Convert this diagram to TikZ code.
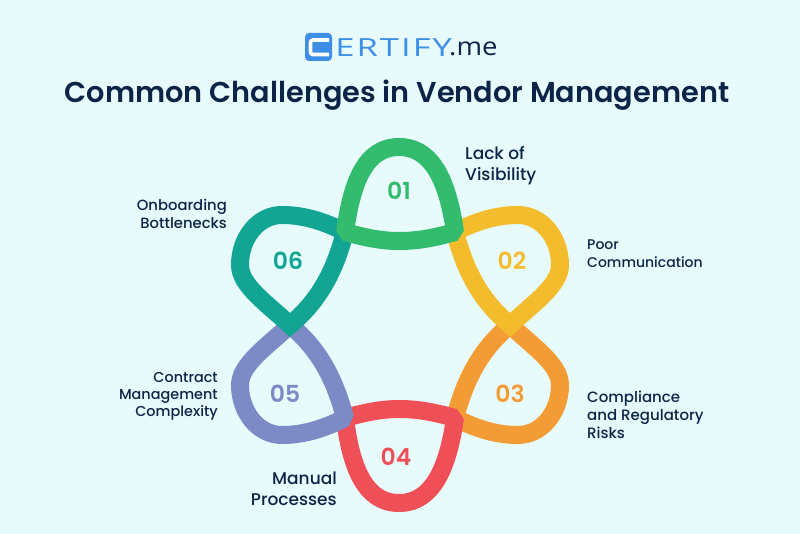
\documentclass[tikz,border=0pt]{standalone}
\usepackage{fontspec}
\setmainfont{Poppins}
\newfontfamily\psb{Poppins SemiBold}
\newfontfamily\pmd{Poppins Medium}
\newfontfamily\logof{Open Sans}
\definecolor{bgc}{HTML}{E8FBFC}
\definecolor{navy}{HTML}{0B2447}
\definecolor{cgreen}{HTML}{33BB6E}
\definecolor{cyellow}{HTML}{F2BC2D}
\definecolor{corange}{HTML}{F39B35}
\definecolor{cred}{HTML}{EF5057}
\definecolor{cblue}{HTML}{7C8BC5}
\definecolor{cteal}{HTML}{12A594}
\definecolor{clogo}{HTML}{3D8EE6}
\tikzset{
  loopline/.style={line width=18pt,line join=bevel},
  tipline/.style={line width=18pt,line join=miter,miter limit=10},
  lbl/.style={inner sep=0pt,text=navy,font=\pmd\fontsize{14}{18}\selectfont},
  lblbig/.style={inner sep=0pt,text=navy,font=\pmd\fontsize{17}{21}\selectfont},
  num/.style={inner sep=0pt,font=\psb\fontsize{23.5}{23.5}\selectfont},
}
\begin{document}
\begin{tikzpicture}[x=1pt,y=-1pt]
\path[use as bounding box,fill=bgc] (0,0) rectangle (800,534);
% loops, bottom to top
\draw[loopline,corange] (455,418) .. controls (475,428) and (495,435) .. (518,435) .. controls (542,435) and (560,412) .. (560,385) .. controls (560,365) and (535,348) .. (510,325) .. controls (480,350) and (465,380) .. cycle;
\draw[loopline,cred] (345,418) .. controls (363,413) and (380,409) .. (399,409) .. controls (420,409) and (437,413) .. (455,418) .. controls (449,460) and (436,503) .. (399,503) .. controls (362,503) and (350,460) .. cycle;
\draw[loopline,cblue] (345,418) .. controls (325,428) and (305,435) .. (282,435) .. controls (258,435) and (240,412) .. (240,385) .. controls (240,365) and (265,348) .. (290,325) .. controls (320,350) and (335,380) .. cycle;
\draw[tipline,cteal] (345,232) .. controls (325,222) and (305,215) .. (282,215) .. controls (258,215) and (240,238) .. (240,265) .. controls (240,285) and (265,302) .. (290,325) .. controls (320,300) and (335,270) .. (345,232);
\draw[tipline,cyellow] (455,232) .. controls (475,222) and (495,215) .. (518,215) .. controls (542,215) and (560,238) .. (560,265) .. controls (560,285) and (535,302) .. (510,325) .. controls (480,300) and (465,270) .. (455,232);
\draw[loopline,cgreen] (345,232) .. controls (351,190) and (362,147) .. (399,147) .. controls (436,147) and (449,190) .. (455,232) .. controls (437,237) and (420,241) .. (399,241) .. controls (380,241) and (363,237) .. cycle;
% numbers
\node[num,text=cgreen] (n1) at (399,191) {01};
\node[num,text=cyellow] (n2) at (512,261) {02};
\node[num,text=corange] (n3) at (510,394) {03};
\node[num,text=cred] (n4) at (396,457) {04};
\node[num,text=cblue] (n5) at (285,394) {05};
\node[num,text=cteal] (n6) at (288,261) {06};
% labels
\node[lblbig,anchor=west,align=left] (l1) at (465,165.5) {Lack of\\Visibility};
\node[lbl,anchor=west,align=left] (l2) at (587,254) {Poor\\Communication};
\node[lbl,anchor=west,align=left,font=\pmd\fontsize{15}{18}\selectfont] (l3) at (587,415) {Compliance\\and Regulatory\\Risks};
\node[lblbig,anchor=east,align=right] (l4) at (337,488.5) {Manual\\Processes};
\node[lbl,anchor=east,align=right,font=\pmd\fontsize{14.4}{17}\selectfont] (l5) at (218,396) {Contract\\Management\\Complexity};
\node[lbl,anchor=east,align=right,font=\pmd\fontsize{14.8}{18}\selectfont] (l6) at (227,214) {Onboarding\\Bottlenecks};
% title
\node[inner sep=0pt,text=navy,font=\psb\fontsize{28.75}{30}\selectfont] (title) at (397,95) {Common Challenges in Vendor Management};
% logo
\fill[clogo,rounded corners=4pt] (305,33) rectangle (332,61);
\draw[white,line width=3.6pt,rounded corners=2.5pt] (329,40) -- (310.5,40) -- (310.5,54.5) -- (329,54.5);
\node[inner sep=0pt,anchor=west,text=clogo,xscale=1.38] (logoa) at (335,47.3) {\logof\fontsize{25}{25}\selectfont\addfontfeatures{LetterSpace=6}ERTIFY};
\node[inner sep=0pt,anchor=west,text=navy,xscale=1.1] (logob) at (449,49) {\logof\fontsize{25}{25}\selectfont .me};
\end{tikzpicture}
\end{document}
